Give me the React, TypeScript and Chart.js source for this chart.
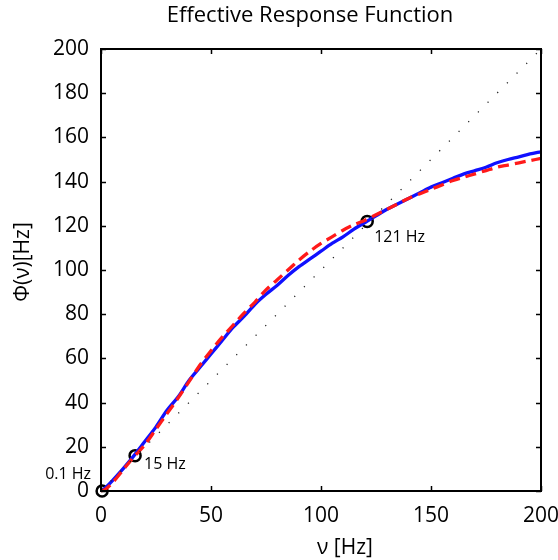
import React, { useEffect, useRef } from "react";
import { Chart, registerables } from "chart.js";

Chart.register(...registerables);

const xValues = [0, 2, 5, 10, 15, 20, 25, 30, 35, 40, 45, 50, 55, 60, 65, 70, 75, 80, 85, 90, 95, 100, 105, 110, 115, 120, 125, 130, 135, 140, 145, 150, 155, 160, 165, 170, 175, 180, 185, 190, 195, 200];
const measuredPhi = [0, 1.5, 4.5, 10, 16, 22.5, 29, 36.5, 42.5, 50, 56, 62, 68, 74, 79, 84.5, 89, 93, 97.5, 101.5, 105, 108.5, 112, 115, 118.5, 121.5, 124.5, 127.5, 130, 132.5, 135, 137.5, 139.5, 141.5, 143.5, 145, 146.5, 148.5, 150, 151.2, 152.5, 153.5];
const fittedPhi = [0, 0.8, 3.5, 9.5, 15.5, 21, 28, 35, 42, 49.5, 57, 63.5, 69.5, 75, 80.5, 85.5, 91, 95.5, 100, 104.5, 108.5, 112, 115, 118, 120.5, 122.5, 125, 127.5, 130, 132.5, 134.5, 136.5, 138.5, 140.5, 142, 143.5, 145, 146.5, 147.5, 148.5, 149.5, 150.5];
const diagonalX = [0, 200];
const fixedPointX = [0.5, 15.5, 121];
const fixedPointY = [0, 16, 122];
const fixedPointLabels = ["0.1 Hz", "15 Hz", "121 Hz"];
const xTicks = [0, 50, 100, 150, 200];
const yTicks = [0, 20, 40, 60, 80, 100, 120, 140, 160, 180, 200];

const FONT = "'Open Sans', sans-serif";

const decorPlugin = {
  id: "decor",
  afterDraw(chart: any) {
    const ctx = chart.ctx;
    const { left, right, top, bottom } = chart.chartArea;
    const xs = chart.scales.x;
    const ys = chart.scales.y;
    ctx.save();
    ctx.strokeStyle = "#000";
    ctx.lineWidth = 2;
    ctx.strokeRect(left, top, right - left, bottom - top);
    ctx.lineWidth = 1.5;
    const tl = 5;
    ctx.beginPath();
    xTicks.forEach((v) => {
      const px = Math.round(xs.getPixelForValue(v)) + 0.5;
      ctx.moveTo(px, bottom);
      ctx.lineTo(px, bottom - tl);
      ctx.moveTo(px, top);
      ctx.lineTo(px, top + tl);
    });
    yTicks.forEach((v) => {
      const py = Math.round(ys.getPixelForValue(v)) + 0.5;
      ctx.moveTo(left, py);
      ctx.lineTo(left + tl, py);
      ctx.moveTo(right, py);
      ctx.lineTo(right - tl, py);
    });
    ctx.stroke();
    ctx.fillStyle = "#000";
    ctx.textBaseline = "middle";
    ctx.textAlign = "center";
    ctx.font = `22px ${FONT}`;
    ctx.fillText("Effective Response Function", 310, 16);
    ctx.font = `21px ${FONT}`;
    ctx.fillText("ν [Hz]", 345, 548);
    ctx.save();
    ctx.translate(23, 262);
    ctx.rotate(-Math.PI / 2);
    ctx.fillText("Φ(ν)[Hz]", 0, 0);
    ctx.restore();
    ctx.font = `16px ${FONT}`;
    const offsets = [
      { dx: -11, dy: -17, align: "right" },
      { dx: 9, dy: 9, align: "left" },
      { dx: 7, dy: 16, align: "left" },
    ];
    fixedPointX.forEach((x, i) => {
      const px = xs.getPixelForValue(x);
      const py = ys.getPixelForValue(fixedPointY[i]);
      ctx.textAlign = offsets[i].align;
      ctx.fillText(fixedPointLabels[i], px + offsets[i].dx, py + offsets[i].dy);
    });
    ctx.restore();
  },
};

export default function App() {
  const canvasRef = useRef<HTMLCanvasElement | null>(null);

  useEffect(() => {
    const canvas = canvasRef.current;
    if (!canvas) return;
    const chart = new Chart(canvas, {
      type: "line",
      data: {
        datasets: [
          {
            label: "diagonal",
            data: diagonalX.map((x) => ({ x, y: x })),
            borderColor: "#222",
            borderWidth: 1.3,
            borderDash: [1.2, 12.5],
            pointRadius: 0,
            fill: false,
          },
          {
            label: "fit",
            data: xValues.map((x, i) => ({ x, y: fittedPhi[i] })),
            borderColor: "#ff1a1a",
            borderWidth: 3.3,
            borderDash: [11, 6],
            pointRadius: 0,
            tension: 0.3,
            fill: false,
          },
          {
            label: "measured",
            data: xValues.map((x, i) => ({ x, y: measuredPhi[i] })),
            borderColor: "#1010ff",
            borderWidth: 3.3,
            pointRadius: 0,
            tension: 0.3,
            fill: false,
          },
          {
            label: "fixed points",
            data: fixedPointX.map((x, i) => ({ x, y: fixedPointY[i] })),
            showLine: false,
            pointRadius: 5.5,
            pointBorderWidth: 2.5,
            pointBorderColor: "#000",
            pointBackgroundColor: "rgba(0,0,0,0)",
            pointStyle: "circle",
          },
        ],
      },
      options: {
        responsive: false,
        animation: false,
        clip: false,
        layout: { padding: { top: 49, right: 17, left: 0, bottom: 0 } },
        plugins: {
          legend: { display: false },
          title: { display: false },
          tooltip: { enabled: false },
        },
        scales: {
          x: {
            type: "linear",
            min: 0,
            max: 200,
            afterBuildTicks: (s: any) => {
              s.ticks = xTicks.map((v) => ({ value: v }));
            },
            afterFit: (s: any) => {
              s.height = 69;
              s.paddingLeft = 0;
              s.paddingRight = 0;
            },
            grid: { display: false, drawTicks: false },
            border: { display: false },
            ticks: {
              color: "#000",
              padding: 12,
              maxRotation: 0,
              font: { family: FONT, size: 21 },
            },
          },
          y: {
            type: "linear",
            min: 0,
            max: 200,
            afterBuildTicks: (s: any) => {
              s.ticks = yTicks.map((v) => ({ value: v }));
            },
            afterFit: (s: any) => {
              s.width = 101;
              s.paddingTop = 0;
              s.paddingBottom = 0;
            },
            grid: { display: false, drawTicks: false },
            border: { display: false },
            ticks: {
              color: "#000",
              padding: 12,
              font: { family: FONT, size: 21 },
            },
          },
        },
      },
      plugins: [decorPlugin],
    });
    return () => chart.destroy();
  }, []);

  return (
    <div style={{ position: "fixed", left: 0, top: 0, width: 558, height: 560, background: "#fff" }}>
      <canvas ref={canvasRef} width={558} height={560} style={{ display: "block" }} />
    </div>
  );
}
